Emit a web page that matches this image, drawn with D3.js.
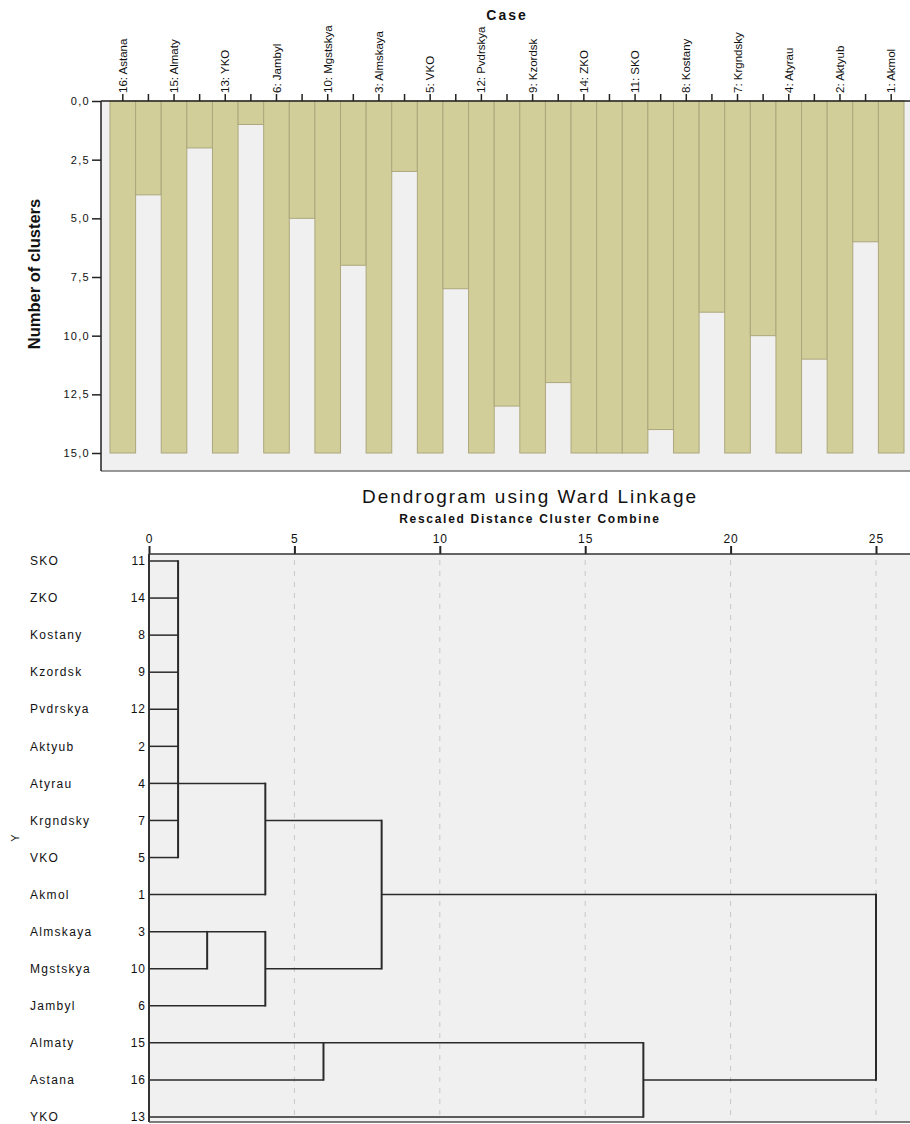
<!DOCTYPE html>
<html>
<head>
<meta charset="utf-8">
<script src="https://cdn.jsdelivr.net/npm/d3@7"></script>
<style>
  body { margin: 0; background: #fff; }
  text { font-family: "Liberation Sans", Arial, sans-serif; fill: #111; }
  .narrow { font-family: "Liberation Sans Narrow", "Arial Narrow", sans-serif; }
</style>
</head>
<body>
<div id="vis"></div>
<script>
// icicle plot + dendrogram (Ward linkage)

const FRAME_WIDTH = 910;
const FRAME_HEIGHT = 1124;

// ---- icicle data ----
const caseLabels = ["16: Astana", "15: Almaty", "13: YKO", "6: Jambyl", "10: Mgstskya",
  "3: Almskaya", "5: VKO", "12: Pvdrskya", "9: Kzordsk", "14: ZKO", "11: SKO",
  "8: Kostany", "7: Krgndsky", "4: Atyrau", "2: Aktyub", "1: Akmol"];
const caseValue = 15;
// number of clusters at which neighbouring cases are still joined
const gapValues = [4, 2, 1, 5, 7, 3, 8, 13, 12, 15, 14, 9, 10, 11, 6];
const yTicks = [0, 2.5, 5, 7.5, 10, 12.5, 15];

// ---- dendrogram data ----
const leafNames = ["SKO", "ZKO", "Kostany", "Kzordsk", "Pvdrskya", "Aktyub", "Atyrau",
  "Krgndsky", "VKO", "Akmol", "Almskaya", "Mgstskya", "Jambyl", "Almaty", "Astana", "YKO"];
const leafIds = [11, 14, 8, 9, 12, 2, 4, 7, 5, 1, 3, 10, 6, 15, 16, 13];
const mergeDist = [1, 2, 4, 4, 8, 6, 17, 25];
const mergeChildren = [
  ["L0", "L1", "L2", "L3", "L4", "L5", "L6", "L7", "L8"],
  ["L10", "L11"],
  ["M0", "L9"],
  ["M1", "L12"],
  ["M2", "M3"],
  ["L13", "L14"],
  ["M5", "L15"],
  ["M4", "M6"]
];
const mergeRow = [6, 10, 7, 11, 9, 13, 14, 11];
const distTicks = [0, 5, 10, 15, 20, 25];

const SVG = d3.select("#vis")
  .append("svg")
    .attr("width", FRAME_WIDTH)
    .attr("height", FRAME_HEIGHT);

// ================= ICICLE =================
const TOP = {left: 101, top: 101, bottom: 471, right: 910};

const columns = d3.range(caseLabels.length * 2 - 1);
const X_COL = d3.scaleBand()
  .domain(columns)
  .range([110, 904]);
const Y_ICE = d3.scaleLinear()
  .domain([0, 15])
  .range([TOP.top, 453]);

SVG.append("rect")
  .attr("x", TOP.left).attr("y", TOP.top)
  .attr("width", TOP.right - TOP.left).attr("height", TOP.bottom - TOP.top)
  .attr("fill", "#f0f0f0");

const colData = columns.map((c) => {
  return {col: c, value: c % 2 === 0 ? caseValue : gapValues[(c - 1) / 2]};
});

SVG.selectAll(".bar")
  .data(colData)
  .enter()
  .append("rect")
    .attr("class", "bar")
    .attr("x", (d) => X_COL(d.col))
    .attr("y", Y_ICE(0))
    .attr("width", X_COL.bandwidth())
    .attr("height", (d) => Y_ICE(d.value) - Y_ICE(0))
    .attr("fill", "#d2ce9a")
    .attr("stroke", "#aca77c")
    .attr("stroke-width", 1);

// bottom border
SVG.append("line")
  .attr("x1", TOP.left).attr("x2", TOP.right)
  .attr("y1", TOP.bottom).attr("y2", TOP.bottom)
  .attr("stroke", "#777").attr("stroke-width", 1.5);

// top axis with case labels
const topAxis = SVG.append("g")
  .attr("transform", "translate(0," + TOP.top + ")")
  .call(d3.axisTop(X_COL).tickSize(7).tickSizeOuter(0)
    .tickFormat((c) => c % 2 === 0 ? caseLabels[c / 2] : ""));
topAxis.select(".domain").remove();
topAxis.append("line")
  .attr("x1", TOP.left).attr("x2", TOP.right)
  .attr("stroke", "#222").attr("stroke-width", 1.5);
topAxis.selectAll(".tick line").attr("stroke", "#222").attr("stroke-width", 1.5);
topAxis.selectAll(".tick text")
  .attr("class", "narrow")
  .attr("font-size", "11.5px")
  .attr("fill", "#111")
  .attr("text-anchor", "start")
  .attr("transform", "rotate(-90)")
  .attr("x", 8)
  .attr("y", 0)
  .attr("dy", "0.35em");

// left axis
const leftAxis = SVG.append("g")
  .attr("transform", "translate(" + TOP.left + ",0)")
  .call(d3.axisLeft(Y_ICE).tickValues(yTicks).tickSize(9).tickSizeOuter(0)
    .tickFormat((d) => d3.format(".1f")(d).replace(".", ",")));
leftAxis.select(".domain").remove();
leftAxis.append("line")
  .attr("y1", TOP.top).attr("y2", TOP.bottom)
  .attr("stroke", "#222").attr("stroke-width", 1.5);
leftAxis.selectAll(".tick line").attr("stroke", "#222").attr("stroke-width", 1.5);
leftAxis.selectAll(".tick text")
  .attr("font-size", "11px")
  .attr("letter-spacing", "1.3px")
  .attr("fill", "#222")
  .attr("x", -11);

SVG.append("text")
  .attr("x", 507).attr("y", 20)
  .attr("text-anchor", "middle")
  .attr("font-size", "14px")
  .attr("font-weight", "bold")
  .attr("letter-spacing", "2px")
  .text("Case");

SVG.append("text")
  .attr("class", "narrow")
  .attr("transform", "translate(40,274) rotate(-90)")
  .attr("text-anchor", "middle")
  .attr("font-size", "16.5px")
  .attr("font-weight", "bold")
  .text("Number of clusters");

// ================= DENDROGRAM =================
const DEN = {left: 149, top: 554, bottom: 1122, right: 910};

const X_DIST = d3.scaleLinear()
  .domain([0, 25])
  .range([DEN.left, 876]);
const Y_ROW = d3.scalePoint()
  .domain(d3.range(leafNames.length))
  .range([561, 1117]);

SVG.append("rect")
  .attr("x", DEN.left).attr("y", DEN.top)
  .attr("width", DEN.right - DEN.left).attr("height", DEN.bottom - DEN.top)
  .attr("fill", "#f0f0f0");

// dashed grid
SVG.selectAll(".grid")
  .data(distTicks.slice(1))
  .enter()
  .append("line")
    .attr("class", "grid")
    .attr("x1", (d) => X_DIST(d)).attr("x2", (d) => X_DIST(d))
    .attr("y1", DEN.top + 6).attr("y2", DEN.bottom)
    .attr("stroke", "#c8c8c8")
    .attr("stroke-width", 1)
    .attr("stroke-dasharray", "5,6");

// nodes -> row / distance
function nodeRow(id) {
  const i = +id.slice(1);
  return id[0] === "L" ? i : mergeRow[i];
}
function nodeDist(id) {
  const i = +id.slice(1);
  return id[0] === "L" ? 0 : mergeDist[i];
}

const hSegs = [];
const vSegs = [];
mergeChildren.forEach((kids, m) => {
  const rows = kids.map(nodeRow);
  vSegs.push({d: mergeDist[m], r0: d3.min(rows), r1: d3.max(rows)});
  kids.forEach((k) => {
    hSegs.push({row: nodeRow(k), d0: nodeDist(k), d1: mergeDist[m]});
  });
});

SVG.selectAll(".hseg")
  .data(hSegs)
  .enter()
  .append("line")
    .attr("class", "hseg")
    .attr("x1", (d) => X_DIST(d.d0)).attr("x2", (d) => X_DIST(d.d1))
    .attr("y1", (d) => Y_ROW(d.row)).attr("y2", (d) => Y_ROW(d.row))
    .attr("stroke", "#2a2a2a")
    .attr("stroke-width", 1.5);

SVG.selectAll(".vseg")
  .data(vSegs)
  .enter()
  .append("line")
    .attr("class", "vseg")
    .attr("x1", (d) => X_DIST(d.d)).attr("x2", (d) => X_DIST(d.d))
    .attr("y1", (d) => Y_ROW(d.r0) - 0.75).attr("y2", (d) => Y_ROW(d.r1) + 0.75)
    .attr("stroke", "#2a2a2a")
    .attr("stroke-width", 2);

// borders
SVG.append("line")
  .attr("x1", DEN.left).attr("x2", DEN.left)
  .attr("y1", DEN.top).attr("y2", DEN.bottom)
  .attr("stroke", "#333").attr("stroke-width", 2);
SVG.append("line")
  .attr("x1", DEN.left).attr("x2", DEN.right)
  .attr("y1", DEN.bottom).attr("y2", DEN.bottom)
  .attr("stroke", "#555").attr("stroke-width", 1.5);

// distance axis
const distAxis = SVG.append("g")
  .attr("transform", "translate(0," + DEN.top + ")")
  .call(d3.axisTop(X_DIST).tickValues(distTicks).tickSize(8).tickSizeOuter(0));
distAxis.select(".domain").remove();
distAxis.append("line")
  .attr("x1", DEN.left).attr("x2", DEN.right)
  .attr("stroke", "#333").attr("stroke-width", 1.5);
distAxis.selectAll(".tick line").attr("stroke", "#222").attr("stroke-width", 2);
distAxis.selectAll(".tick text")
  .attr("font-size", "12px")
  .attr("letter-spacing", "1px")
  .attr("fill", "#222")
  .attr("y", -11);

// row labels
SVG.selectAll(".leafname")
  .data(leafNames)
  .enter()
  .append("text")
    .attr("class", "leafname")
    .attr("x", 30)
    .attr("y", (d, i) => Y_ROW(i))
    .attr("dy", "0.35em")
    .attr("font-size", "12px")
    .attr("letter-spacing", "1.3px")
    .attr("fill", "#222")
    .text((d) => d);

SVG.selectAll(".leafid")
  .data(leafIds)
  .enter()
  .append("text")
    .attr("class", "leafid")
    .attr("x", 146)
    .attr("y", (d, i) => Y_ROW(i))
    .attr("dy", "0.35em")
    .attr("text-anchor", "end")
    .attr("font-size", "12px")
    .attr("letter-spacing", "1px")
    .attr("fill", "#222")
    .text((d) => d);

SVG.append("text")
  .attr("x", 530).attr("y", 503)
  .attr("text-anchor", "middle")
  .attr("font-size", "19px")
  .attr("letter-spacing", "2px")
  .text("Dendrogram using Ward Linkage");

SVG.append("text")
  .attr("x", 530).attr("y", 523)
  .attr("text-anchor", "middle")
  .attr("font-size", "12px")
  .attr("font-weight", "bold")
  .attr("letter-spacing", "1.7px")
  .text("Rescaled Distance Cluster Combine");

SVG.append("text")
  .attr("transform", "translate(19,838) rotate(-90)")
  .attr("text-anchor", "middle")
  .attr("font-size", "11px")
  .text("Y");
</script>
</body>
</html>
